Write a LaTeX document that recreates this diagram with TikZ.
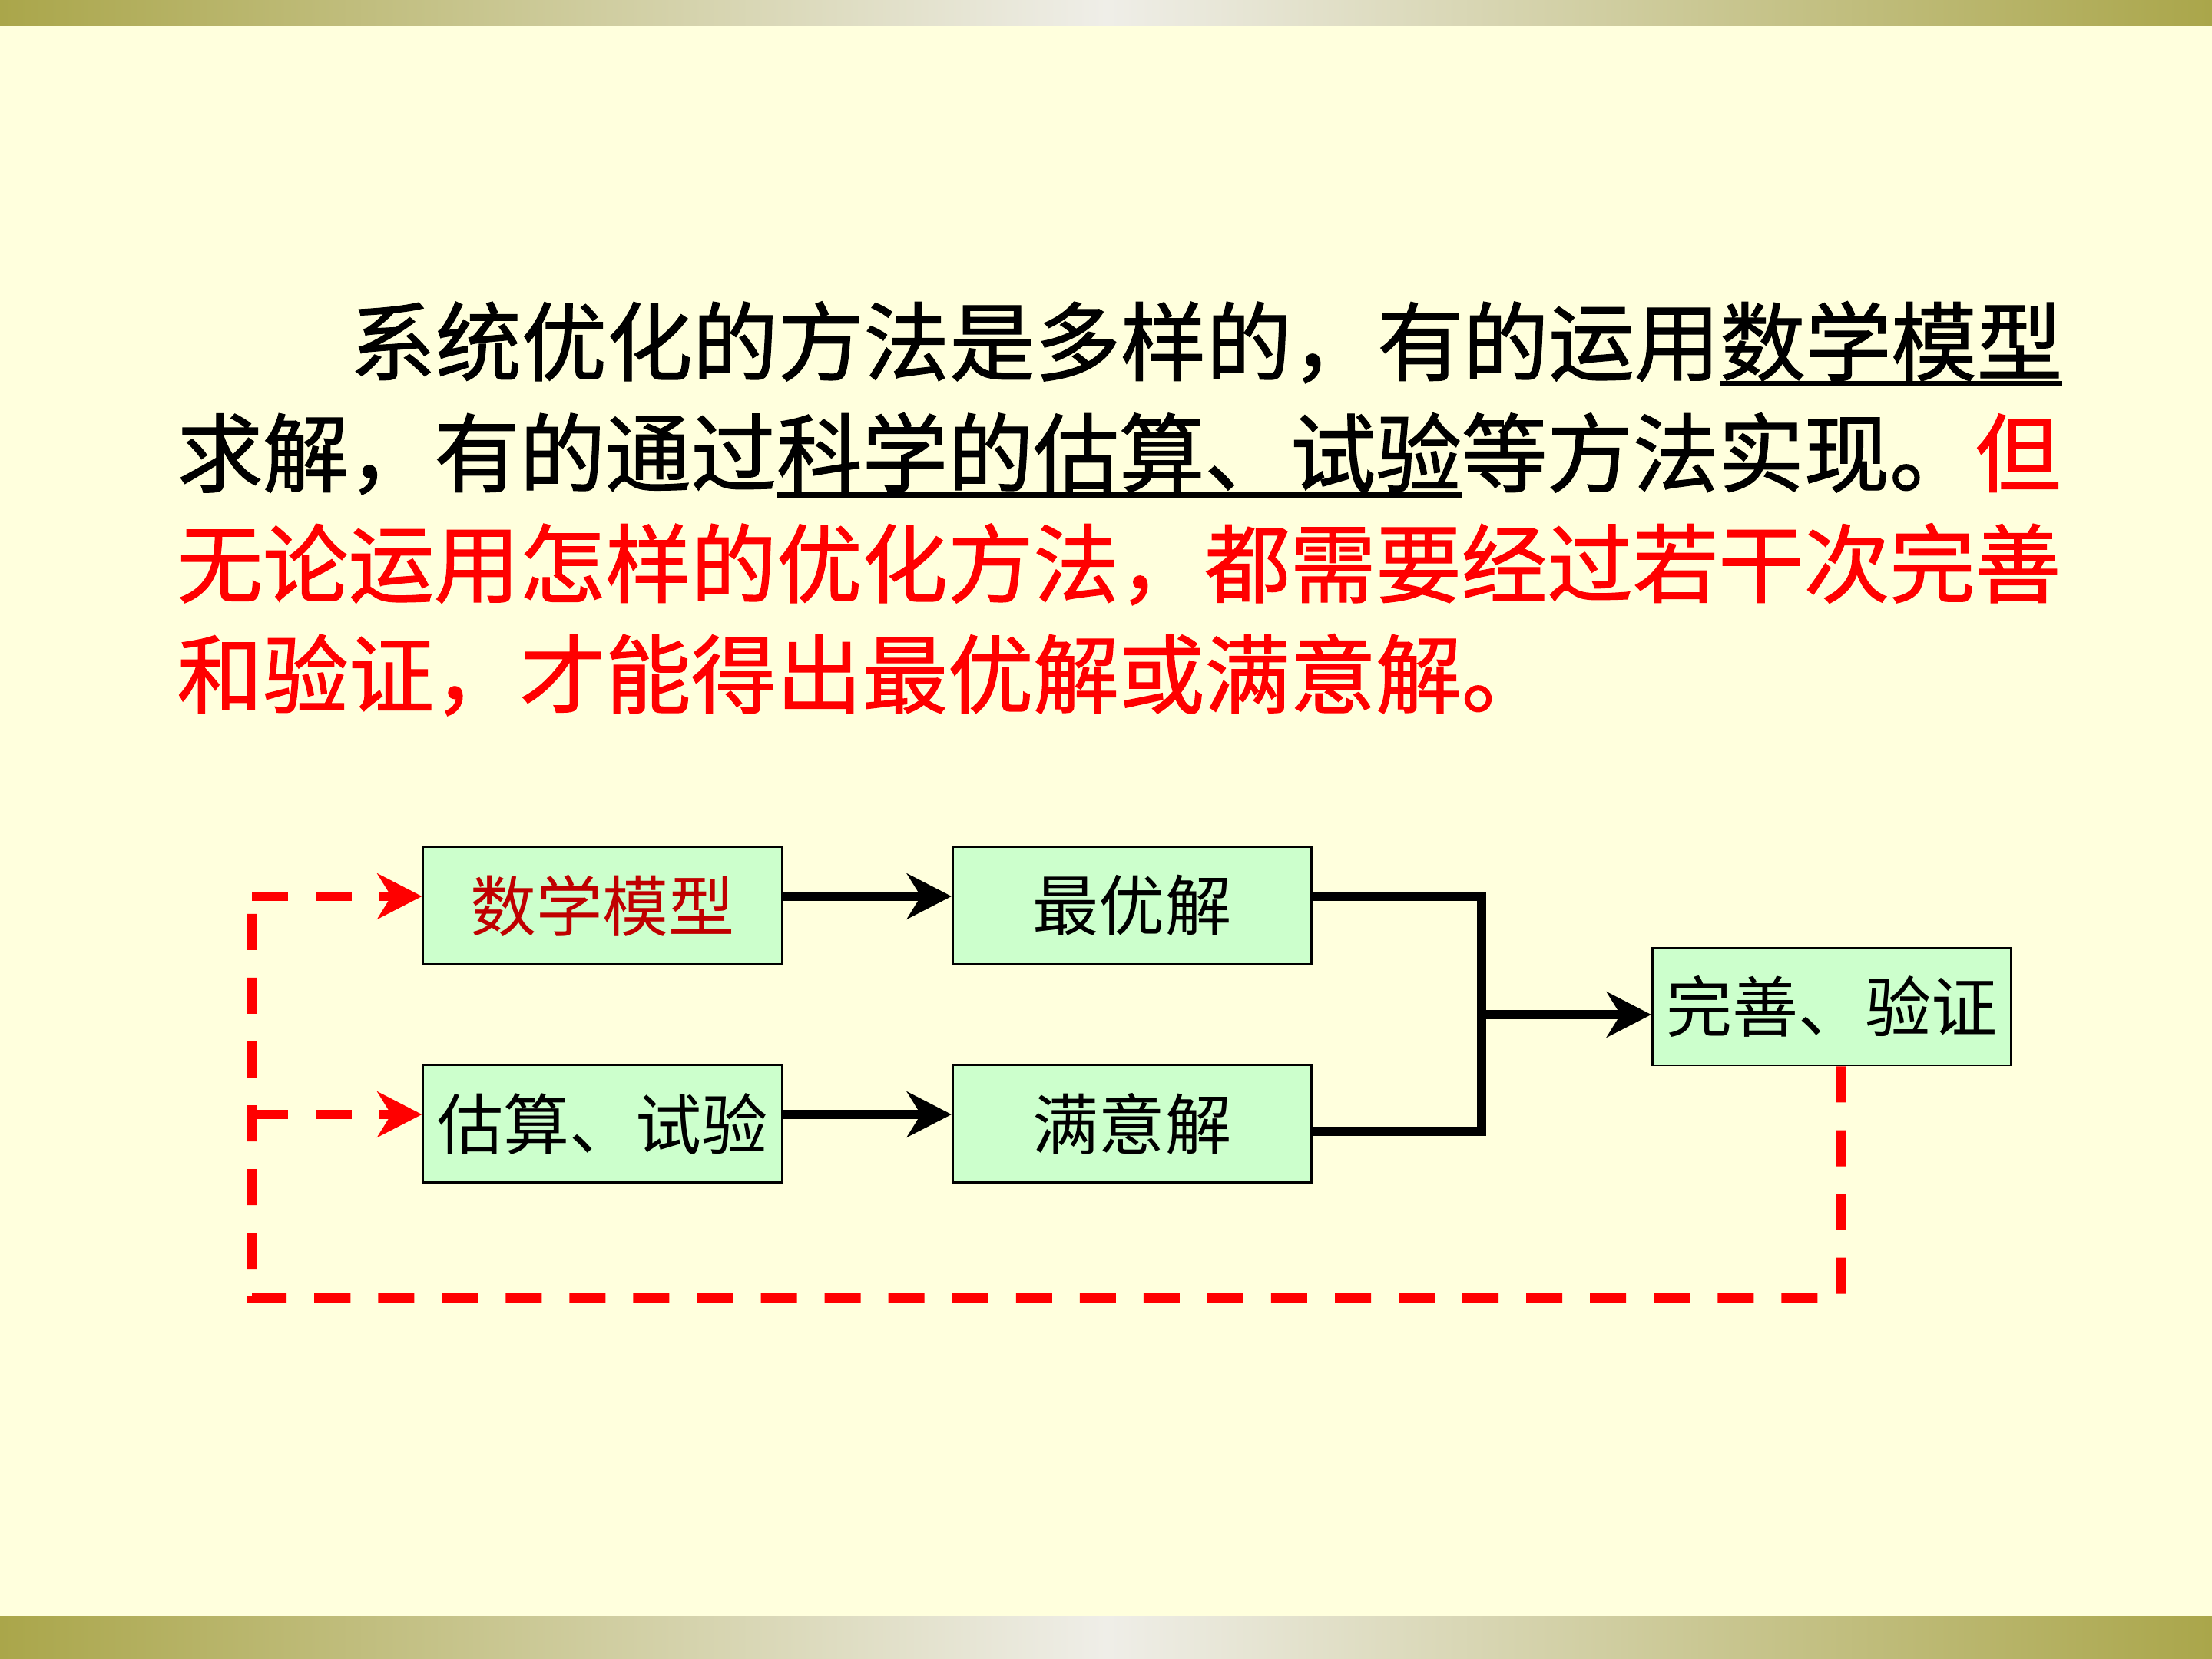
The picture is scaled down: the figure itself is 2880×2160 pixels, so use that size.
\documentclass[tikz,border=0pt]{standalone}
\usepackage{fontspec}
\newfontfamily\cjk{Noto Sans CJK SC}
\newfontfamily\cjkh{Noto Sans CJK SC}[FakeBold=1.2]
\usetikzlibrary{arrows.meta}
\definecolor{bg}{HTML}{FFFFDD}
\definecolor{bar}{HTML}{AAA64A}
\definecolor{barmid}{HTML}{EFEEE8}
\definecolor{boxfill}{HTML}{CCFFCC}
\definecolor{darkred}{HTML}{C00000}
\definecolor{redz}{HTML}{FF0000}
\newcommand\ulx[1]{\setbox0\hbox{#1}\rlap{\rule[-0.14em]{\wd0}{0.06em}}\box0}
\begin{document}
\begin{tikzpicture}[x=0.01cm,y=-0.01cm,
  txt/.style={font=\cjkh\fontsize{31.7}{38}\selectfont, inner sep=0pt, anchor=base west},
  box/.style={draw=black, line width=0.8pt, fill=boxfill, minimum width=4.67cm, minimum height=1.53cm, inner sep=0pt, font=\cjk\fontsize{24.5}{28}\selectfont},
  blk/.style={draw=black, line width=3.4pt},
  arr/.style={blk, -{Stealth[length=0.58cm, width=0.59cm, inset=0.18cm]}},
  rdash/.style={draw=redz, line width=3.4pt, dash pattern=on 0.47cm off 0.36cm},
  rarr/.style={rdash, -{Stealth[length=0.58cm, width=0.59cm, inset=0.18cm]}}]
\useasboundingbox (0,0) rectangle (2880,2160);
\fill[bg] (0,0) rectangle (2880,2160);
\shade[left color=bar, right color=bar, middle color=barmid] (0,0) rectangle (2880,33);
\shade[left color=bar, right color=bar, middle color=barmid] (0,2104) rectangle (2880,2160);

\node[txt] (l1) at (455,487) {系统优化的方法是多样的，有的运用\ulx{数学模型}};
\node[txt] (l2) at (230,632) {求解，有的通过\ulx{科学的估算、试验}等方法实现。\textcolor{redz}{但}};
\node[txt, text=redz] (l3) at (230,776) {无论运用怎样的优化方法，都需要经过若干次完善};
\node[txt, text=redz] (l4) at (230,920) {和验证，才能得出最优解或满意解。};

\node[box, text=darkred] (b1) at (784.5,1179) {数学模型};
\node[box] (b2) at (784.5,1463) {估算、试验};
\node[box] (b3) at (1474,1179) {最优解};
\node[box] (b4) at (1474,1463) {满意解};
\node[box] (b5) at (2385,1310.5) {完善、验证};

\draw[arr] ([yshift=0.12cm]b1.east) -- ([yshift=0.12cm]b3.west);
\draw[arr] ([yshift=0.12cm]b2.east) -- ([yshift=0.12cm]b4.west);

\coordinate (jt) at (1929,1167);
\coordinate (jb) at (1929,1473);
\coordinate (jm) at (1929,1321);
\draw[blk, line join=miter] ([yshift=0.12cm]b3.east) -- (jt) -- (jb) -- ([yshift=-0.10cm]b4.east);
\draw[arr] (jm) -- (b5.west |- jm);

\coordinate (lt) at (328,1167);
\coordinate (lm) at (328,1451);
\coordinate (lb) at (328,1690);
\coordinate (rb) at (2397,1690);
\draw[rdash] ([xshift=0.12cm]b5.south) -- (rb) -- (lb) -- (lt);
\draw[rarr] (lt) -- (b1.west |- lt);
\draw[rarr] (lm) -- (b2.west |- lm);
\end{tikzpicture}
\end{document}
